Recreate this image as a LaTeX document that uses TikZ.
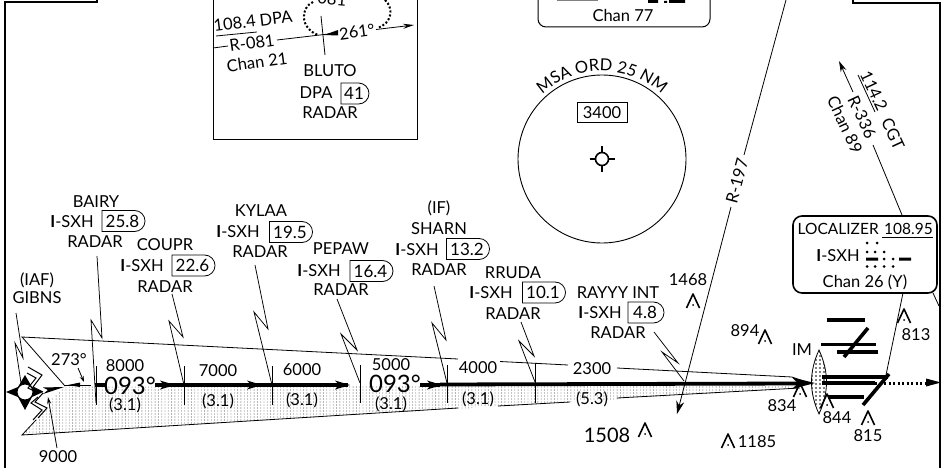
\documentclass[tikz,border=0pt]{standalone}
\usepackage{fontspec}
\setmainfont{Lato}
\usetikzlibrary{arrows.meta,patterns,shapes.misc,decorations.text}
\pgfdeclarepatternformonly{stipfine}{\pgfqpoint{-1pt}{-1pt}}{\pgfqpoint{1pt}{1pt}}{\pgfqpoint{3.3pt}{3pt}}{\pgfpathcircle{\pgfqpoint{0pt}{0pt}}{0.42pt}\pgfusepath{fill}}
\pgfdeclarepatternformonly{stipbold}{\pgfqpoint{-1.5pt}{-1.5pt}}{\pgfqpoint{1.5pt}{1.5pt}}{\pgfqpoint{4pt}{4pt}}{\pgfpathcircle{\pgfqpoint{0pt}{0pt}}{0.85pt}\pgfusepath{fill}}
\newcommand{\msafont}{\fontsize{16.5}{18}\selectfont}
\newcommand{\isxh}{\textbf{I}-SXH}
\newcommand{\lead}[5]{\coordinate (#1-s) at #2; \coordinate (#1-e) at #5; \draw[leader] (#1-s) -- #3 -- #4 -- (#1-e);}
\newcommand{\obst}[2]{\begin{scope}[shift={(#1,#2)}]\draw[obstline] (-6.5,7) -- (0,-7) -- (6.5,7); \fill (0,4) circle (1);\end{scope}}
\tikzset{
  lbl/.style={inner sep=0pt,font=\fontsize{16.5}{18}\selectfont},
  alt/.style={inner sep=0pt,font=\fontsize{16.5}{18}\selectfont},
  big/.style={inner sep=0pt,font=\fontsize{24}{26}\selectfont},
  dist/.style={draw,line width=0.8pt,rounded rectangle,rounded rectangle west arc=none,inner sep=0pt,minimum height=21pt,font=\fontsize{17}{18}\selectfont},
  leader/.style={line width=0.75pt},
  obstline/.style={line width=1.6pt,line join=round},
  thin line/.style={line width=0.8pt},
  course/.style={line width=3.2pt},
  bar/.style={line width=3.6pt},
  tip/.style={-{Stealth[length=13pt,width=8pt]}},
  border/.style={line width=2pt},
  tick/.style={line width=0.8pt},
}
\begin{document}
\begin{tikzpicture}[x=1pt,y=-1pt]
\useasboundingbox (0,0) rectangle (942,468);
% frame
\draw[border] (97,0) -- (97,2) -- (5,2) -- (5,468);
\draw[border] (853,0) -- (853,3) -- (940,3) -- (940,468);
% inset
\draw[line width=1pt] (213,0) -- (213,140) -- (417,140) -- (417,0);
\draw[line width=2pt,dotted,line cap=butt] (313,2) .. controls (300,8) and (300,28) .. (318,35);
\draw[line width=2pt,dotted,line cap=butt] (385,0) .. controls (394,8) and (392,24) .. (377,28);
\node[lbl,rotate=-5] (r081in) at (332,-1) {081};
\draw[thin line] (213,48) -- (228,46);
\node[lbl,rotate=8] (r081) at (252,43) {R-081};
\node[lbl,rotate=7] (dpafreq) at (253,21) {108.4 DPA};
\draw[thin line] (216,36) -- (257,32);
\node[lbl,rotate=8] (chan21) at (257,62) {Chan 21};
\coordinate (inL) at (277,40); \coordinate (inR) at (337,33);
\draw[thin line] (inL) -- (inR);
\fill (324,35) -- (338,30) -- (338,35.5) -- cycle;
\draw[thin line] (321,16) -- (325,55);
\node[lbl,rotate=8] (out261) at (357,32) {261°};
\draw[thin line,-{Stealth[length=11pt,width=5pt]}] (376,29.5) -- (414,25);
\node[lbl] (bluto) at (330,71) {BLUTO};
\node[lbl] (dpa) at (316,93) {DPA};
\node[dist,minimum width=28pt] (d41) at (354,93.5) {41};
\node[lbl] (blutorad) at (330,113) {RADAR};
% top box
\draw[line width=1pt,rounded corners=8pt] (538,-10) -- (538,27) -- (710,27) -- (710,-10);
\draw[gray,line width=1pt] (557,1) -- (598,1);
\fill (648,0) rectangle (658,3) (664,1) rectangle (667,3) (669,0) rectangle (685,3);
\node[lbl] (chan77) at (623,15) {Chan 77};
% MSA
\draw[line width=0.9pt] (602,159) circle (84);
\path[decorate,decoration={text along path,text align=center,text={|\msafont|MSA ORD 25 NM}}] (602,159) ++(-139:88) arc[start angle=-139,end angle=-41,radius=88];
\node[draw,line width=0.8pt,inner sep=0pt,minimum width=50pt,minimum height=20pt,font=\fontsize{16.5}{18}\selectfont] (msa) at (602,112.5) {3400};
\draw[line width=1.6pt] (602,159) circle (6.5);
\draw[line width=1.6pt] (602,146.5) -- (602,152) (602,166) -- (602,171.5) (589.5,159) -- (595,159) (609,159) -- (614.5,159);
% R-197
\node[lbl,rotate=75] (r197) at (737,181) {R-197};
\coordinate (r197top) at (786,0); \coordinate (r197tip) at (677,414);
\draw[thin line] (r197top) -- (744,155);
\draw[thin line,tip] (731,207) -- (r197tip);
% CGT
\node[lbl,rotate=-65] (cgtf) at (874,91) {114.2};
\node[lbl,rotate=-65] (cgt) at (893,134) {CGT};
\node[lbl,rotate=-65] (r336) at (862,117) {R-336};
\node[lbl,rotate=-65] (chan89) at (845,125) {Chan 89};
\draw[thin line] (858,75) -- (875,112);
\draw[thin line,-{Stealth[length=11pt,width=6pt]}] (853,92) -- (839,61);
% localizer
\node[draw,line width=1.6pt,rounded corners=9pt,minimum width=144pt,minimum height=77pt] (loc) at (865,254.5) {};
\draw[thin line] (873,145) -- (902,215);
\draw[thin line] (903,293) -- (886,375);
\draw[thin line] (933,293) -- (939,306);
\node[inner sep=0pt,font=\fontsize{15.5}{17}\selectfont,anchor=west] (loct) at (797.5,229) {LOCALIZER};
\node[inner sep=0pt,font=\fontsize{15.5}{17}\selectfont,anchor=east] (locf) at (933,229) {108.95};
\draw[thin line] (882,237.5) -- (933,237.5);
\node[lbl] (locid) at (838,256) {\isxh};
\fill (867,243) circle (1.5) (877,243) circle (1.5) (867,252) circle (1.5) (875,252) circle (1.5) (884,252) circle (1.5)
 (884,259) circle (1.5) (893,259) circle (1.5) (867,266.5) circle (1.5) (875,266.5) circle (1.5) (884,266.5) circle (1.5) (893,266.5) circle (1.5);
\fill (866,257.5) rectangle (878,260.5) (899,257.5) rectangle (911,260.5);
\node[lbl] (chan26) at (865,282) {Chan 26 (Y)};
% feather shade
\fill[pattern=stipfine,pattern color=black] (65,387) -- (800,386) -- (800,388) -- (22,435) -- (36,420) -- (52,398) -- cycle;
% feather outline
\coordinate (fa) at (22,337); \coordinate (fb) at (22,435);
\draw[thin line] (65,386) -- (fa) -- (458,359);
\draw[thin line] (500,361.5) -- (568,365);
\draw[thin line] (617,368) -- (792,377) -- (812,384);
\draw[thin line] (36,420) -- (fb) -- (458,408);
\draw[thin line] (498,406) -- (570,402);
\draw[thin line] (617,398) -- (800,388);
% ticks
\foreach \x/\a/\b in {96/366/405,184/366/405,272/366/405,360/365/403,447/365/403,535/363/403}
  \draw[tick] (\x,\a) -- (\x,\b);
% course
\draw[thin line] (65,385) -- (91,385);
\fill (68,385) -- (80,382.5) -- (80,387) -- cycle;
\draw[course] (95,385) -- (106,385);
\draw[course] (155,385) -- (348,385);
\draw[course] (420,385) -- (440,385);
\draw[line width=3.8pt] (440,384.5) -- (800,383.5);
\foreach \x in {175,262,350,442}
  \fill (\x,385) -- (\x-15,380.5) -- (\x-11,385) -- (\x-15,389.5) -- cycle;
\fill (815,383) -- (792,377.5) -- (798,383.5) -- (792,389) -- cycle;
% leaders
\lead{bairy}{(97,256)}{(102,338)}{(91,320)}{(96,403)}
\lead{coupr}{(172,294)}{(183,337)}{(169,321)}{(184,385)}
\lead{kylaa}{(255,265)}{(268,329)}{(254,312)}{(272,385)}
\lead{gibns}{(16,313)}{(23,358)}{(15,343)}{(21,383)}
\lead{pepaw}{(337,299)}{(357,350)}{(341,334)}{(360,383)}
\lead{sharn}{(434,286)}{(446,340)}{(432,323)}{(447,383)}
\lead{rruda}{(521,322)}{(534,356)}{(519,341)}{(535,382)}
\lead{rayyy}{(654,332)}{(678,363)}{(662,352)}{(684,381)}
% fix labels
\node[lbl] (bairyn) at (96,202) {BAIRY};
\node[lbl] (bairyi) at (72,222) {\isxh};
\node[dist,minimum width=43pt] (bairyd) at (122.5,221) {25.8};
\node[lbl] (bairyr) at (95,242) {RADAR};
\node[lbl] (couprn) at (165,245) {COUPR};
\node[lbl] (coupri) at (142,266) {\isxh};
\node[dist,minimum width=43pt] (couprd) at (192.5,265.5) {22.6};
\node[lbl] (couprr) at (165,287) {RADAR};
\node[lbl] (kylaan) at (261,211) {KYLAA};
\node[lbl] (kylaai) at (238,232) {\isxh};
\node[dist,minimum width=43pt] (kylaad) at (290,232) {19.5};
\node[lbl] (kylaar) at (260,252) {RADAR};
\node[lbl] (pepawn) at (341,249) {PEPAW};
\node[lbl] (pepawi) at (319,271) {\isxh};
\node[dist,minimum width=43pt] (pepawd) at (370.5,271) {16.4};
\node[lbl] (pepawr) at (341,290) {RADAR};
\node[lbl] (sharnf) at (439,208) {(IF)};
\node[lbl] (sharnn) at (439,229) {SHARN};
\node[lbl] (sharni) at (417,250) {\isxh};
\node[dist,minimum width=43pt] (sharnd) at (467,249) {13.2};
\node[lbl] (sharnr) at (439,270) {RADAR};
\node[lbl] (rrudan) at (513,273) {RRUDA};
\node[lbl] (rrudai) at (491,293) {\isxh};
\node[dist,minimum width=43pt] (rrudad) at (543,292.5) {10.1};
\node[lbl] (rrudar) at (513,314) {RADAR};
\node[lbl] (rayyyn) at (618,293) {RAYYY INT};
\node[lbl] (rayyyi) at (600,313) {\isxh};
\node[dist,minimum width=36pt] (rayyyd) at (645,312.5) {4.8};
\node[lbl] (rayyyr) at (618,333) {RADAR};
\node[lbl] (iaf) at (37,280) {(IAF)};
\node[lbl] (gibnsn) at (37,298) {GIBNS};
% altitudes
\node[alt] (a1) at (125,366) {8000};
\node[alt] (a2) at (218,371) {7000};
\node[alt] (a3) at (302,370) {6000};
\node[alt] (a4) at (391,365) {5000};
\node[alt] (a5) at (478,368) {4000};
\node[alt] (a6) at (592,369) {2300};
\node[big] (c1) at (130,386) {093°};
\node[big] (c2) at (395,384) {093°};
\node[alt] (b1) at (125,405) {(3.1)};
\node[alt] (b2) at (218,401) {(3.1)};
\node[alt] (b3) at (302,400) {(3.1)};
\node[alt] (b4) at (391,404) {(3.1)};
\node[alt] (b5) at (478,399) {(3.1)};
\node[alt] (b6) at (592,399) {(5.3)};
\node[alt] (t273) at (69,360) {273°};
\coordinate (p273) at (78,368);
\draw[thin line,-{Stealth[length=6pt,width=4pt]}] (p273) -- (84,382);
\node[alt] (t9000) at (58,457) {9000};
\draw[thin line,-{Stealth[length=7pt,width=4pt]}] (57,448) -- (48,397);
% IAF symbol
\fill (6,392) -- (18,387) -- (25,375) -- (32,387) -- (43,392) -- (32,397) -- (25,410) -- (18,397) -- cycle;
\node[circle,draw,fill=white,line width=1pt,minimum size=16pt,inner sep=0pt] (iafc) at (25,392) {};
\draw[line width=1pt,line join=miter] (28,367) -- (42,375) -- (33,387) -- (43,392);
\draw[line width=1pt,line join=miter] (27,373) -- (36,378) -- (28,388) -- (38,393);
\draw[line width=1pt,line join=miter] (43,393) -- (35,402) -- (47,408) -- (38,418);
\draw[line width=1pt,line join=miter] (38,397) -- (31,403) -- (42,410) -- (33,420);
\fill (64,387) -- (43,387.5) -- (48,390) -- (43,394) -- cycle;
% lens
\draw[line width=0.8pt,pattern=stipbold,pattern color=black] (819,350) .. controls (809,372) and (809,392) .. (819,414) .. controls (829,392) and (829,372) .. (819,350) -- cycle;
% bars
\draw[bar] (827,320) -- (865,320);
\draw[bar] (821,344.5) -- (876,344.5);
\draw[bar] (837,352) -- (878,352);
\draw[bar] (868,328) -- (844,357);
\draw[bar] (822,377) -- (888,377);
\draw[bar] (822,383) -- (875,383);
\draw[bar] (828,397) -- (864,397);
\draw[bar] (889,374) -- (863,405);
\draw[line width=3pt,dash pattern=on 2pt off 2.5pt] (875,383) -- (926,383);
\fill (941,382.5) -- (926,378.5) -- (926,386.5) -- cycle;
\node[lbl] (im) at (802,350) {IM};
% obstacles
\node[lbl] (o1468) at (688,280) {1468};
\obst{693}{301}
\node[lbl] (o894) at (745,331) {894};
\obst{765}{337}
\node[inner sep=0pt,font=\fontsize{20}{22}\selectfont] (o1508) at (607,435) {1508};
\obst{645}{430}
\node[lbl] (o1185) at (757,442) {1185};
\obst{728}{441}
\node[lbl] (o834) at (782,406) {834};
\obst{800}{390}
\node[lbl] (o844) at (837,418) {844};
\obst{827}{401}
\node[lbl] (o815) at (868,436) {815};
\obst{868}{418}
\node[lbl] (o813) at (916,335) {813};
\obst{904}{316}
\end{tikzpicture}
\end{document}
